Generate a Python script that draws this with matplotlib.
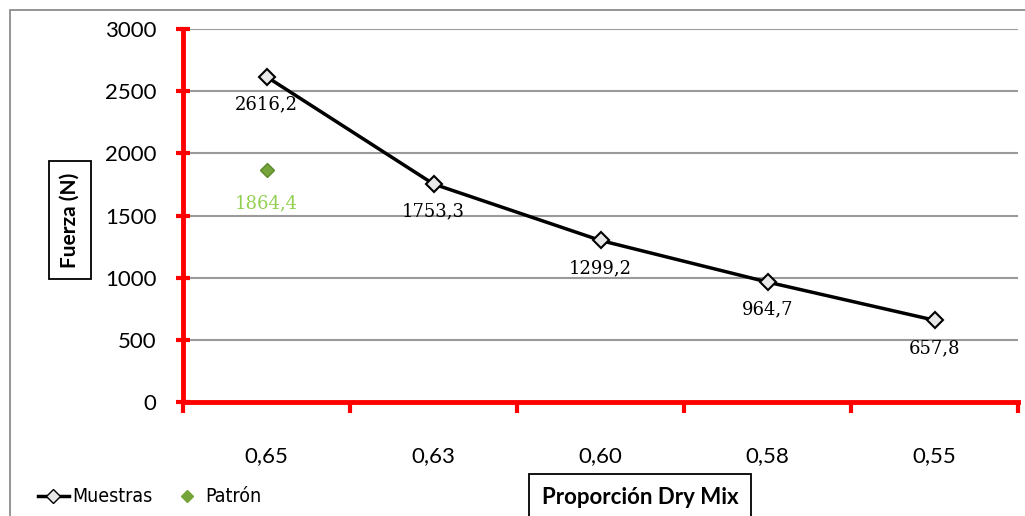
import matplotlib.pyplot as plt
from matplotlib.patches import Rectangle
from matplotlib.lines import Line2D
from matplotlib.font_manager import FontProperties

# datos
proporcion = ["0,65", "0,63", "0,60", "0,58", "0,55"]
muestras = [2616.2, 1753.3, 1299.2, 964.7, 657.8]
muestras_txt = ["2616,2", "1753,3", "1299,2", "964,7", "657,8"]
patron = [1864.4]
patron_txt = ["1864,4"]
yticks = [0, 500, 1000, 1500, 2000, 2500, 3000]

red = "#ff0000"
sans = ["Lato", "DejaVu Sans"]
serif = ["DejaVu Serif"]

fig = plt.figure(figsize=(10.25, 5.16), dpi=100)
# marco exterior del grafico
fig.patches.append(Rectangle((10 / 1025, -0.1), 1.1, 1 - 10 / 516 + 0.1, transform=fig.transFigure,
                             fill=False, edgecolor="#8c8c8c", linewidth=1.3))

ax = fig.add_axes([183 / 1025, 1 - 402 / 516, (1018 - 183) / 1025, (402 - 29) / 516])
x = list(range(len(proporcion)))

ax.plot(x, muestras, "-D", color="black", linewidth=2.5, markersize=8,
        markerfacecolor="#e8e8e8", markeredgecolor="black", markeredgewidth=1.5, zorder=4)
ax.plot(x[:len(patron)], patron, "D", color="#76a33a", markersize=7, markeredgecolor="#5c8a2a", zorder=4)

for xi, v, t in zip(x, muestras, muestras_txt):
    ax.annotate(t, (xi, v), xytext=(0, -20), textcoords="offset points", ha="center", va="center",
                fontsize=13, family=serif, color="black")
for xi, v, t in zip(x, patron, patron_txt):
    ax.annotate(t, (xi, v), xytext=(0, -24), textcoords="offset points", ha="center", va="center",
                fontsize=13, family=serif, color="#92d050")

ax.set_xlim(-0.5, len(proporcion) - 0.5)
ax.set_ylim(0, 3000)
ax.set_yticks(yticks)
ax.set_yticklabels([str(v) for v in yticks], fontsize=16, family=sans)
ax.set_xticks(x)
ax.set_xticklabels(proporcion, fontsize=16, family=sans)
ax.set_xticks([i - 0.5 for i in range(len(proporcion) + 1)], minor=True)
ax.tick_params(axis="x", which="major", length=0, pad=32)
ax.tick_params(axis="x", which="minor", length=8, width=3, color=red, direction="out")
ax.tick_params(axis="y", length=10, width=3, color=red, direction="inout", pad=14)

ax.grid(axis="y", color="#9a9a9a", linewidth=1.5)
ax.set_axisbelow(True)
for s in ["top", "right"]:
    ax.spines[s].set_visible(False)
for s in ["left", "bottom"]:
    ax.spines[s].set_color(red)
    ax.spines[s].set_linewidth(3.5)

fig.text(70 / 1025, 1 - 220 / 516, "Fuerza (N)", rotation=90, ha="center", va="center",
         fontsize=15, fontweight="bold", family=sans,
         bbox=dict(boxstyle="square,pad=0.55", facecolor="white", edgecolor="black", linewidth=1.3))
fig.text(640 / 1025, 1 - 497 / 516, "Proporción Dry Mix", ha="center", va="center",
         fontsize=16, fontweight="bold", family=sans,
         bbox=dict(boxstyle="square,pad=0.55", facecolor="white", edgecolor="black", linewidth=1.3))

handles = [
    Line2D([], [], color="black", linewidth=2.5, marker="D", markersize=7,
           markerfacecolor="#e8e8e8", markeredgecolor="black"),
    Line2D([], [], linestyle="none", marker="D", markersize=6, color="#76a33a"),
]
leg_font = FontProperties(family="DejaVu Sans", stretch="condensed", size=14)
fig.legend(handles, ["Muestras", "Patrón"], loc="center left", bbox_to_anchor=(30 / 1025, 1 - 497 / 516),
           ncol=2, frameon=False, prop=leg_font, handlelength=1.6,
           handletextpad=0.15, columnspacing=1.0, borderaxespad=0)

fig.savefig("out.png", dpi=100)
